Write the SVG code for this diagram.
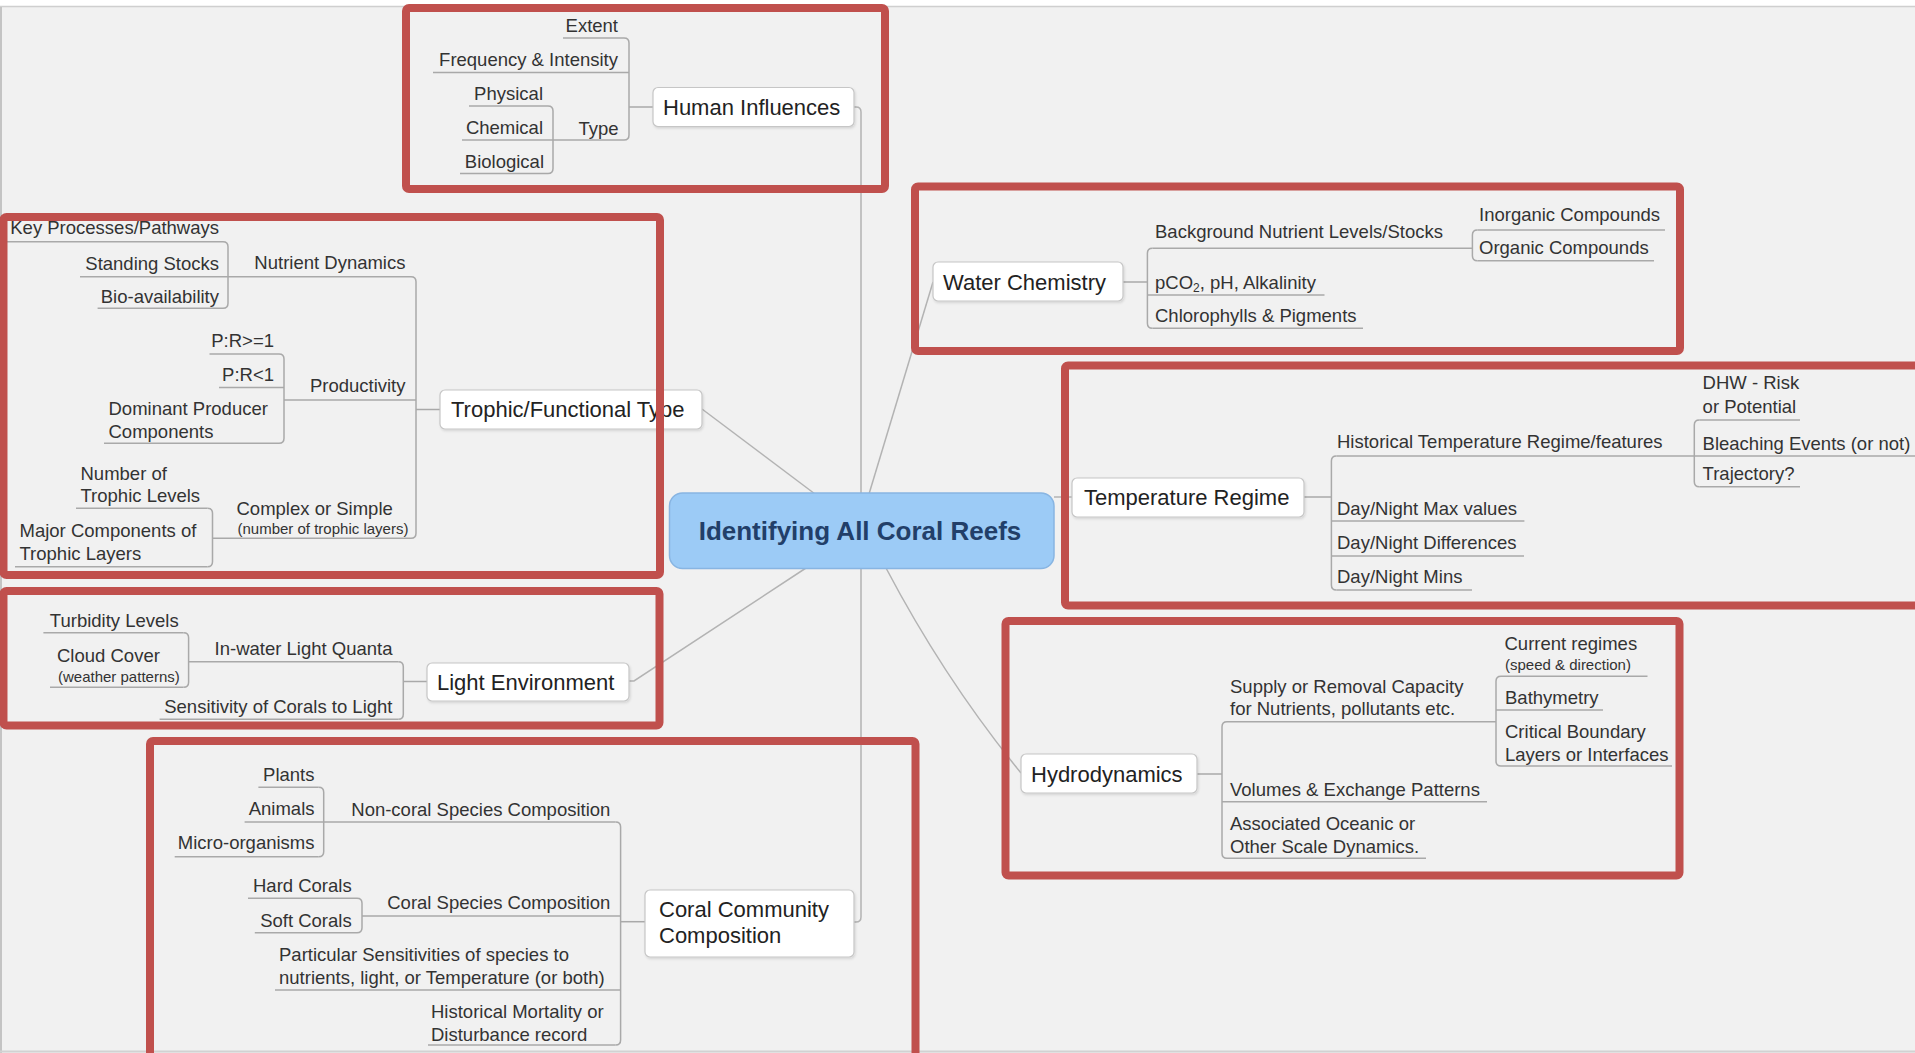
<svg xmlns="http://www.w3.org/2000/svg" width="1915" height="1053" viewBox="0 0 1915 1053">
  <defs>
    <style>
      .t { font-family: "Liberation Sans", Arial, sans-serif; font-size: 18.5px; fill: #333333; }
      .m { font-size: 22px; fill: #222222; }
      .s { font-size: 15px; }
      .e { text-anchor: end; }
      .ul { stroke: #a9a9a9; stroke-width: 1.5; fill: none; }
      .cn { stroke: #b3b3b3; stroke-width: 1.5; fill: none; }
      .box { fill: #ffffff; stroke: #c6c6c6; stroke-width: 1.2; filter: url(#sh); }
      .hl { fill: none; stroke: #c0504d; stroke-width: 8; }
    </style>
    <filter id="sh" x="-10%" y="-20%" width="120%" height="150%">
      <feDropShadow dx="1" dy="1.5" stdDeviation="1" flood-color="#000" flood-opacity="0.12"/>
    </filter>
  </defs>

  <!-- canvas -->
  <rect x="0" y="0" width="1915" height="1053" fill="#f1f1f1"/>
  <rect x="0" y="0" width="1915" height="6" fill="#ffffff"/>
  <line x1="0" y1="6.5" x2="1915" y2="6.5" stroke="#cfcfcf" stroke-width="1.5"/>
  <line x1="1" y1="7" x2="1" y2="1053" stroke="#c4c4c4" stroke-width="2"/>
  <line x1="0" y1="1051.5" x2="1915" y2="1051.5" stroke="#d2d2d2" stroke-width="2"/>

  <!-- connectors: links from the central topic, brackets and topic-to-bracket stubs -->
  <g id="connectors">
    <path class="cn" d="M 854 107 H 856 Q 861 107 861 112 V 500"/>
    <path class="cn" d="M 861 560 V 917 Q 861 922 856 922 H 854"/>
    <path class="cn" d="M 702 409 L 815 494"/>
    <path class="cn" d="M 869 494 L 933 282"/>
    <path class="cn" d="M 1054 497 H 1072"/>
    <path class="cn" d="M 886 568 Q 945 680 1021 773"/>
    <path class="cn" d="M 629 681 H 634 L 806 568"/>

    <path class="ul" d="M 653 107 H 629"/>
    <path class="ul" d="M 624 38 Q 629 38 629 43 V 135 Q 629 140 624 140"/>
    <path class="ul" d="M 548 106 Q 553 106 553 111 V 168.5 Q 553 173.5 548 173.5"/>

    <path class="ul" d="M 440 409.5 H 416"/>
    <path class="ul" d="M 411 276.7 Q 416 276.7 416 281.7 V 533.3 Q 416 538.3 411 538.3"/>
    <path class="ul" d="M 223 241.7 Q 228 241.7 228 246.7 V 303.3 Q 228 308.3 223 308.3"/>
    <path class="ul" d="M 279 354 Q 284 354 284 359 V 438.3 Q 284 443.3 279 443.3"/>
    <path class="ul" d="M 207.5 508.3 Q 212.5 508.3 212.5 513.3 V 561.7 Q 212.5 566.7 207.5 566.7"/>

    <path class="ul" d="M 427 681.5 H 403.3"/>
    <path class="ul" d="M 398.3 661.7 Q 403.3 661.7 403.3 666.7 V 714.3 Q 403.3 719.3 398.3 719.3"/>
    <path class="ul" d="M 183.6 632.7 Q 188.6 632.7 188.6 637.7 V 682.3 Q 188.6 687.3 183.6 687.3"/>

    <path class="ul" d="M 645 921.7 H 620.6"/>
    <path class="ul" d="M 615.6 822 Q 620.6 822 620.6 827 V 1040 Q 620.6 1045 615.6 1045"/>
    <path class="ul" d="M 318.7 787.3 Q 323.7 787.3 323.7 792.3 V 851.7 Q 323.7 856.7 318.7 856.7"/>
    <path class="ul" d="M 357 898.3 Q 362 898.3 362 903.3 V 927.7 Q 362 932.7 357 932.7"/>

    <path class="ul" d="M 1123 282 H 1147.4"/>
    <path class="ul" d="M 1152.4 248.3 Q 1147.4 248.3 1147.4 253.3 V 323.3 Q 1147.4 328.3 1152.4 328.3"/>
    <path class="ul" d="M 1477.4 230 Q 1472.4 230 1472.4 235 V 255.7 Q 1472.4 260.7 1477.4 260.7"/>

    <path class="ul" d="M 1304 497 H 1331.4"/>
    <path class="ul" d="M 1336.4 456 Q 1331.4 456 1331.4 461 V 585 Q 1331.4 590 1336.4 590"/>
    <path class="ul" d="M 1699.3 420 Q 1694.3 420 1694.3 425 V 481.7 Q 1694.3 486.7 1699.3 486.7"/>

    <path class="ul" d="M 1197 774 H 1222"/>
    <path class="ul" d="M 1227 721.7 Q 1222 721.7 1222 726.7 V 853.3 Q 1222 858.3 1227 858.3"/>
    <path class="ul" d="M 1501 676.3 Q 1496 676.3 1496 681.3 V 761 Q 1496 766 1501 766"/>
  </g>

  <!-- central topic -->
  <g id="central">
    <rect x="669.5" y="493" width="384.5" height="75.5" rx="13" fill="#9ccbf6" stroke="#88b5e2" stroke-width="1.5"/>
    <text class="t" x="860" y="539.5" text-anchor="middle" style="font-size:26px;font-weight:bold;fill:#223f69">Identifying All Coral Reefs</text>
  </g>

  <!-- Human Influences -->
  <g id="human-influences">
    <rect class="box" x="653" y="87.5" width="201" height="39" rx="5"/>
    <text class="t m" x="663" y="114.5">Human Influences</text>
  </g>
  <g id="hi-extent"><text class="t e" x="618" y="31.5">Extent</text><line class="ul" x1="563" y1="38" x2="624" y2="38"/></g>
  <g id="hi-frequency"><text class="t e" x="618" y="66">Frequency &amp; Intensity</text><line class="ul" x1="433" y1="72.5" x2="629" y2="72.5"/></g>
  <g id="hi-type"><text class="t e" x="618.5" y="134.5">Type</text><line class="ul" x1="553" y1="140" x2="624" y2="140"/></g>
  <g id="hi-physical"><text class="t e" x="543" y="99.5">Physical</text><line class="ul" x1="469" y1="106" x2="548" y2="106"/></g>
  <g id="hi-chemical"><text class="t e" x="543" y="133.5">Chemical</text><line class="ul" x1="462" y1="140" x2="553" y2="140"/></g>
  <g id="hi-biological"><text class="t e" x="544" y="168">Biological</text><line class="ul" x1="460" y1="173.5" x2="548" y2="173.5"/></g>

  <!-- Trophic/Functional Type -->
  <g id="trophic">
    <rect class="box" x="440" y="390" width="262" height="39" rx="5"/>
    <text class="t m" x="451" y="417">Trophic/Functional Type</text>
  </g>
  <g id="tr-nutrient"><text class="t e" x="405.5" y="269">Nutrient Dynamics</text><line class="ul" x1="228" y1="276.7" x2="411" y2="276.7"/></g>
  <g id="tr-key"><text class="t e" x="219" y="234">Key Processes/Pathways</text><line class="ul" x1="4" y1="241.7" x2="223" y2="241.7"/></g>
  <g id="tr-standing"><text class="t e" x="219" y="269.5">Standing Stocks</text><line class="ul" x1="80" y1="276.7" x2="228" y2="276.7"/></g>
  <g id="tr-bio"><text class="t e" x="219" y="302.5">Bio-availability</text><line class="ul" x1="97.6" y1="308.3" x2="223" y2="308.3"/></g>
  <g id="tr-productivity"><text class="t e" x="405.5" y="391.5">Productivity</text><line class="ul" x1="284" y1="400" x2="416" y2="400"/></g>
  <g id="tr-pr-ge"><text class="t e" x="274" y="346.5">P:R&gt;=1</text><line class="ul" x1="209.5" y1="354" x2="279" y2="354"/></g>
  <g id="tr-pr-lt"><text class="t e" x="274" y="380.5">P:R&lt;1</text><line class="ul" x1="219" y1="387.5" x2="284" y2="387.5"/></g>
  <g id="tr-dominant">
    <text class="t" x="108.5" y="415">Dominant Producer</text>
    <text class="t" x="108.5" y="437.5">Components</text>
    <line class="ul" x1="104" y1="443.3" x2="279" y2="443.3"/>
  </g>
  <g id="tr-complex">
    <text class="t" x="236.5" y="514.5">Complex or Simple</text>
    <text class="t s" x="237.5" y="533.5">(number of trophic layers)</text>
    <line class="ul" x1="212.5" y1="538.3" x2="411" y2="538.3"/>
  </g>
  <g id="tr-levels">
    <text class="t" x="80.5" y="480">Number of</text>
    <text class="t" x="80.5" y="502">Trophic Levels</text>
    <line class="ul" x1="76" y1="508.3" x2="207.5" y2="508.3"/>
  </g>
  <g id="tr-major">
    <text class="t" x="19.5" y="537">Major Components of</text>
    <text class="t" x="19.5" y="560">Trophic Layers</text>
    <line class="ul" x1="15" y1="566.7" x2="207.5" y2="566.7"/>
  </g>

  <!-- Light Environment -->
  <g id="light">
    <rect class="box" x="427" y="663" width="202" height="38" rx="5"/>
    <text class="t m" x="437" y="690">Light Environment</text>
  </g>
  <g id="li-quanta"><text class="t e" x="392.5" y="654.5">In-water Light Quanta</text><line class="ul" x1="188.6" y1="661.7" x2="398.3" y2="661.7"/></g>
  <g id="li-turbidity"><text class="t e" x="178.7" y="626.5">Turbidity Levels</text><line class="ul" x1="43.4" y1="632.7" x2="183.6" y2="632.7"/></g>
  <g id="li-cloud">
    <text class="t" x="57" y="662">Cloud Cover</text>
    <text class="t s" x="58" y="681.5">(weather patterns)</text>
    <line class="ul" x1="50" y1="687.3" x2="183.6" y2="687.3"/>
  </g>
  <g id="li-sensitivity"><text class="t e" x="392.5" y="713.3">Sensitivity of Corals to Light</text><line class="ul" x1="159.6" y1="719.3" x2="398.3" y2="719.3"/></g>

  <!-- Coral Community Composition -->
  <g id="community">
    <rect class="box" x="645" y="890" width="209" height="67" rx="5"/>
    <text class="t m" x="659" y="916.5">Coral Community</text>
    <text class="t m" x="659" y="943">Composition</text>
  </g>
  <g id="cc-noncoral"><text class="t e" x="610.4" y="816">Non-coral Species Composition</text><line class="ul" x1="323.7" y1="822" x2="615.6" y2="822"/></g>
  <g id="cc-plants"><text class="t e" x="314.5" y="780.5">Plants</text><line class="ul" x1="258.4" y1="787.3" x2="318.7" y2="787.3"/></g>
  <g id="cc-animals"><text class="t e" x="314.5" y="815">Animals</text><line class="ul" x1="244.6" y1="822" x2="323.7" y2="822"/></g>
  <g id="cc-micro"><text class="t e" x="314.5" y="849.3">Micro-organisms</text><line class="ul" x1="174.7" y1="856.7" x2="318.7" y2="856.7"/></g>
  <g id="cc-coral"><text class="t e" x="610.4" y="909.3">Coral Species Composition</text><line class="ul" x1="362" y1="916" x2="620.6" y2="916"/></g>
  <g id="cc-hard"><text class="t e" x="351.7" y="891.5">Hard Corals</text><line class="ul" x1="248" y1="898.3" x2="357" y2="898.3"/></g>
  <g id="cc-soft"><text class="t e" x="351.7" y="926.5">Soft Corals</text><line class="ul" x1="254.8" y1="932.7" x2="357" y2="932.7"/></g>
  <g id="cc-sensitivities">
    <text class="t" x="279" y="960.7">Particular Sensitivities of species to</text>
    <text class="t" x="279" y="984">nutrients, light, or Temperature (or both)</text>
    <line class="ul" x1="275" y1="990" x2="620.6" y2="990"/>
  </g>
  <g id="cc-mortality">
    <text class="t" x="431" y="1018.3">Historical Mortality or</text>
    <text class="t" x="431" y="1040.7">Disturbance record</text>
    <line class="ul" x1="428" y1="1045" x2="615.6" y2="1045"/>
  </g>

  <!-- Water Chemistry -->
  <g id="water">
    <rect class="box" x="933" y="262" width="190" height="39" rx="5"/>
    <text class="t m" x="943" y="289.5">Water Chemistry</text>
  </g>
  <g id="wc-background"><text class="t" x="1155" y="237.5">Background Nutrient Levels/Stocks</text><line class="ul" x1="1152.4" y1="248.3" x2="1472.4" y2="248.3"/></g>
  <g id="wc-inorganic"><text class="t" x="1479" y="220.5">Inorganic Compounds</text><line class="ul" x1="1477.4" y1="230" x2="1665" y2="230"/></g>
  <g id="wc-organic"><text class="t" x="1479" y="253.5">Organic Compounds</text><line class="ul" x1="1477.4" y1="260.7" x2="1654" y2="260.7"/></g>
  <g id="wc-pco2"><text class="t" x="1155" y="288.5">pCO<tspan style="font-size:12px" dy="3">2</tspan><tspan dy="-3">, pH, Alkalinity</tspan></text><line class="ul" x1="1147.4" y1="295" x2="1324.5" y2="295"/></g>
  <g id="wc-chlorophylls"><text class="t" x="1155" y="321.7">Chlorophylls &amp; Pigments</text><line class="ul" x1="1152.4" y1="328.3" x2="1363" y2="328.3"/></g>

  <!-- Temperature Regime -->
  <g id="temperature">
    <rect class="box" x="1072" y="478" width="232" height="39" rx="5"/>
    <text class="t m" x="1084" y="505">Temperature Regime</text>
  </g>
  <g id="te-historical"><text class="t" x="1337" y="448">Historical Temperature Regime/features</text><line class="ul" x1="1336.4" y1="456" x2="1694.3" y2="456"/></g>
  <g id="te-dhw">
    <text class="t" x="1702.6" y="389">DHW - Risk</text>
    <text class="t" x="1702.6" y="413">or Potential</text>
    <line class="ul" x1="1699.3" y1="420" x2="1800" y2="420"/>
  </g>
  <g id="te-bleaching"><text class="t" x="1702.6" y="449.5">Bleaching Events (or not)</text><line class="ul" x1="1694.3" y1="456" x2="1915" y2="456"/></g>
  <g id="te-trajectory"><text class="t" x="1702.6" y="480">Trajectory?</text><line class="ul" x1="1699.3" y1="486.7" x2="1800" y2="486.7"/></g>
  <g id="te-max"><text class="t" x="1337" y="514.5">Day/Night Max values</text><line class="ul" x1="1331.4" y1="521" x2="1524.4" y2="521"/></g>
  <g id="te-diff"><text class="t" x="1337" y="549">Day/Night Differences</text><line class="ul" x1="1331.4" y1="556" x2="1524" y2="556"/></g>
  <g id="te-mins"><text class="t" x="1337" y="583.3">Day/Night Mins</text><line class="ul" x1="1336.4" y1="590" x2="1472" y2="590"/></g>

  <!-- Hydrodynamics -->
  <g id="hydro">
    <rect class="box" x="1021" y="754" width="176" height="39" rx="5"/>
    <text class="t m" x="1031" y="781.5">Hydrodynamics</text>
  </g>
  <g id="hy-supply">
    <text class="t" x="1230" y="693.3">Supply or Removal Capacity</text>
    <text class="t" x="1230" y="715">for Nutrients, pollutants etc.</text>
    <line class="ul" x1="1227" y1="721.7" x2="1496" y2="721.7"/>
  </g>
  <g id="hy-current">
    <text class="t" x="1504.5" y="650">Current regimes</text>
    <text class="t s" x="1505" y="670">(speed &amp; direction)</text>
    <line class="ul" x1="1501" y1="676.3" x2="1647.5" y2="676.3"/>
  </g>
  <g id="hy-bathymetry"><text class="t" x="1505" y="703.5">Bathymetry</text><line class="ul" x1="1496" y1="710" x2="1603" y2="710"/></g>
  <g id="hy-critical">
    <text class="t" x="1505" y="738.3">Critical Boundary</text>
    <text class="t" x="1505" y="760.7">Layers or Interfaces</text>
    <line class="ul" x1="1501" y1="766" x2="1672" y2="766"/>
  </g>
  <g id="hy-volumes"><text class="t" x="1230" y="795.5">Volumes &amp; Exchange Patterns</text><line class="ul" x1="1222" y1="801.7" x2="1487" y2="801.7"/></g>
  <g id="hy-oceanic">
    <text class="t" x="1230" y="830">Associated Oceanic or</text>
    <text class="t" x="1230" y="852.7">Other Scale Dynamics.</text>
    <line class="ul" x1="1227" y1="858.3" x2="1426" y2="858.3"/>
  </g>

  <!-- red highlight frames -->
  <g id="highlights">
    <rect class="hl" x="406" y="8" width="479" height="181" rx="3"/>
    <rect class="hl" x="3.5" y="217" width="656.5" height="358" rx="3"/>
    <rect class="hl" x="3.5" y="591" width="656" height="134.5" rx="3"/>
    <rect class="hl" x="150" y="741" width="765.5" height="330" rx="3"/>
    <rect class="hl" x="915" y="186.5" width="765" height="164.5" rx="3"/>
    <rect class="hl" x="1065" y="365.5" width="900" height="240" rx="3"/>
    <rect class="hl" x="1005.5" y="621" width="674" height="254.5" rx="3"/>
  </g>
</svg>
